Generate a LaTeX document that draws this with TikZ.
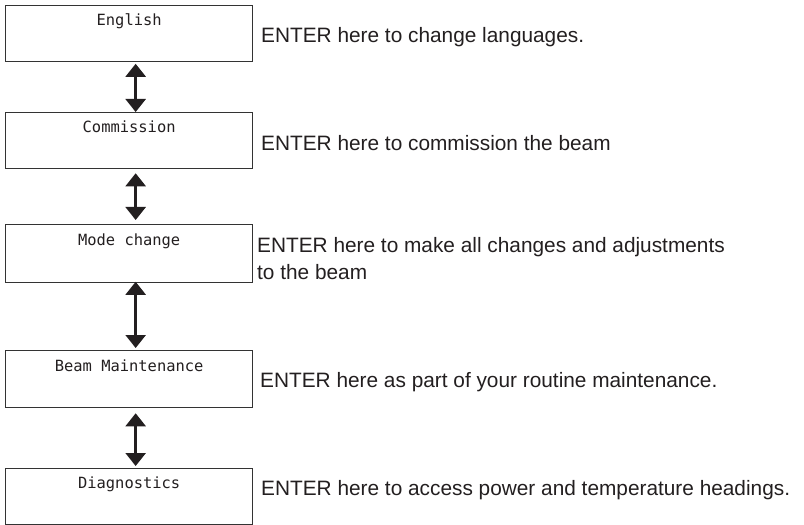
\documentclass[tikz,border=0pt]{standalone}
\usepackage{fontspec}
\setmainfont{Liberation Sans}
\newfontfamily\boxmono{DejaVu Sans Mono}
\usetikzlibrary{arrows.meta}
\definecolor{ink}{HTML}{231F20}
\definecolor{frame}{HTML}{333333}
\tikzset{
  menubox/.style={draw=frame, line width=1.3bp, minimum width=247bp, minimum height=56bp, anchor=north west, inner sep=0pt},
  menulabel/.style={anchor=base, inner sep=0pt, text=ink, font=\boxmono\fontsize{15.5}{18}\selectfont},
  note/.style={anchor=base west, inner sep=0pt, text=ink, font=\fontsize{20.9}{28}\selectfont, align=left},
  link/.style={draw=ink, line width=2.6bp, {Triangle[width=20bp,length=13bp]}-{Triangle[width=20bp,length=13bp]}},
}
\begin{document}
\begin{tikzpicture}[x=1bp,y=-1bp]
\useasboundingbox[fill=white] (0,0) rectangle (804,525);
\node[menubox] (b1) at (5,5) {};
\node[menubox] (b2) at (5,112) {};
\node[menubox, minimum height=58bp] (b3) at (5,224) {};
\node[menubox, minimum height=57bp] (b4) at (5,350) {};
\node[menubox] (b5) at (5,467.5) {};

\node[menulabel] (l1) at ([yshift=-20.5bp]b1.north) {English};
\node[menulabel] (l2) at ([yshift=-21bp]b2.north) {Commission};
\node[menulabel] (l3) at ([yshift=-21bp]b3.north) {Mode change};
\node[menulabel] (l4) at ([yshift=-21bp]b4.north) {Beam Maintenance};
\node[menulabel] (l5) at ([yshift=-21bp]b5.north) {Diagnostics};

\node[note] (t1) at (261,42.5) {ENTER here to change languages.};
\node[note] (t2) at (261,151) {ENTER here to commission the beam};
\node[note] (t3) at (257,280) {ENTER here to make all changes and adjustments\\to the beam};
\node[note] (t4) at (260,387) {ENTER here as part of your routine maintenance.};
\node[note] (t5) at (261,495) {ENTER here to access power and temperature headings.};

\draw[link, shorten <=1.5bp] ([xshift=6.5bp]b1.south) -- ([xshift=6.5bp]b2.north);
\draw[link, shorten <=4bp, shorten >=4bp] ([xshift=6.5bp]b2.south) -- ([xshift=6.5bp]b3.north);
\draw[link, shorten <=-1.5bp, shorten >=2bp] ([xshift=6.5bp]b3.south) -- ([xshift=6.5bp]b4.north);
\draw[link, shorten <=5bp, shorten >=1.5bp] ([xshift=6.5bp]b4.south) -- ([xshift=6.5bp]b5.north);
\end{tikzpicture}
\end{document}
